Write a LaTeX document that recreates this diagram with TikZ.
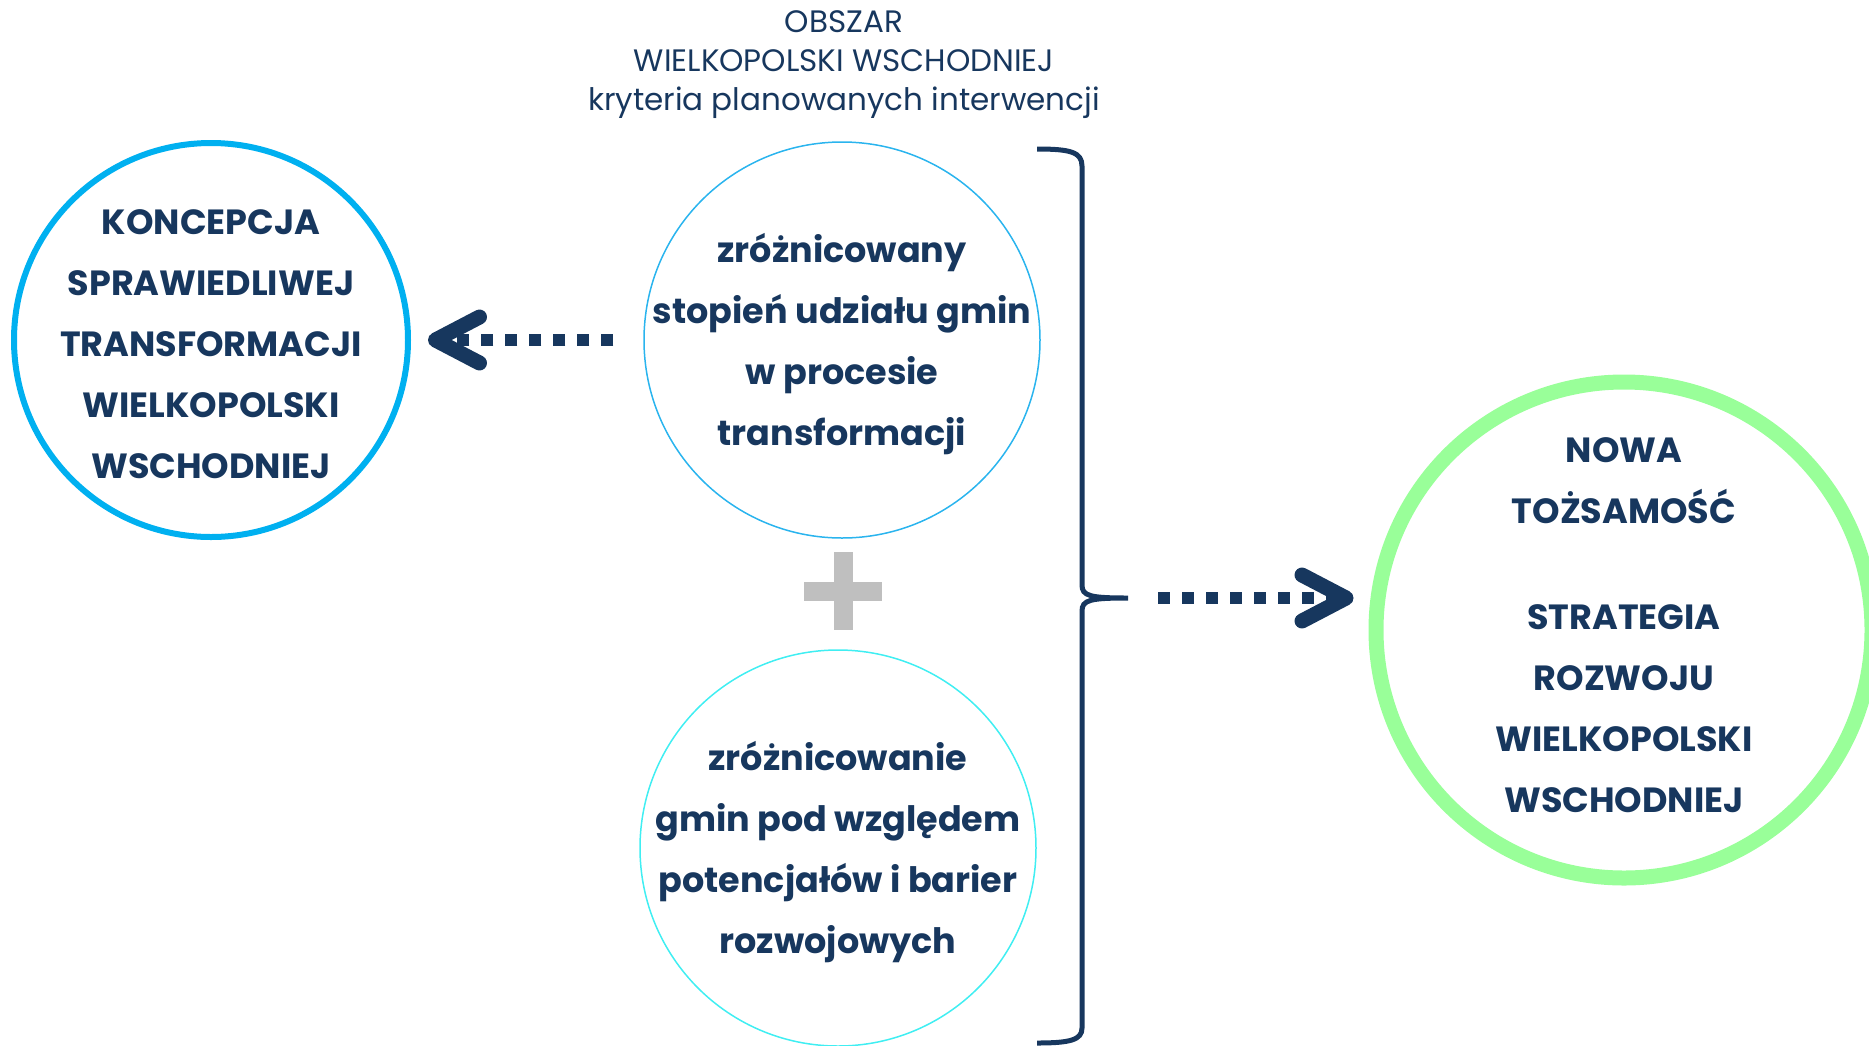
\documentclass[tikz,border=0pt]{standalone}
\usepackage{fontspec}
\setmainfont{Poppins}
\usetikzlibrary{arrows.meta}
\definecolor{granat}{HTML}{17375E}
\definecolor{niebieski}{HTML}{00B0F0}
\definecolor{jasnyniebieski}{HTML}{2AB4EE}
\definecolor{turkus}{HTML}{40EEF2}
\definecolor{zielony}{HTML}{99FF99}
\definecolor{szary}{HTML}{BFBFBF}

\begin{document}
\begin{tikzpicture}[x=1pt,y=-1pt,
  ring/.style={circle,inner sep=0pt,minimum size=#1},
  boldtext/.style={text=granat,align=center,yshift=-4pt,font=\bfseries\fontsize{35}{61}\selectfont},
  titletext/.style={text=granat,align=center,font=\fontsize{31}{39}\selectfont},
  dotarrow/.style={draw=granat,line width=12pt,dash pattern=on 12pt off 12pt,
    -{Straight Barb[round,length=44pt,width=46pt,line width=15pt]}},
  brace/.style={draw=granat,line width=5pt}]
\useasboundingbox (0,0) rectangle (1869,1045);
\clip (0,0) rectangle (1869,1045);

\node[titletext] (obszar) at (844,65) {OBSZAR\\WIELKOPOLSKI WSCHODNIEJ\\kryteria planowanych interwencji};

\node[ring=394pt,draw=niebieski,line width=6pt] (koncepcja) at (211,340) {};
\node[boldtext] (koncepcjatxt) at (koncepcja) {KONCEPCJA\\SPRAWIEDLIWEJ\\TRANSFORMACJI\\WIELKOPOLSKI\\WSCHODNIEJ};

\node[ring=396pt,draw=jasnyniebieski,line width=1.5pt] (udzial) at (842,340) {};
\node[boldtext] (udzialtxt) at (udzial) {zróżnicowany\\stopień udziału gmin\\w procesie\\transformacji};

\node[ring=396pt,draw=turkus,line width=1.5pt] (potencjal) at (838,848) {};
\node[boldtext] (potencjaltxt) at (potencjal) {zróżnicowanie\\gmin pod względem\\potencjałów i barier\\rozwojowych};

\node[ring=496pt,draw=zielony,line width=15pt] (nowa) at (1624,630) {};
\node[boldtext] (nowatxt) at (1624,621) {NOWA\\TOŻSAMOŚĆ\\[45pt]STRATEGIA\\ROZWOJU\\WIELKOPOLSKI\\WSCHODNIEJ};

\fill[szary] (834,552) rectangle (853,630);
\fill[szary] (804,582) rectangle (882,601);

\draw[brace] (1037,149) .. controls (1070,149) and (1082,152) .. (1082,166) -- (1082,585)
  .. controls (1082,596) and (1090,598) .. (1128,598)
  .. controls (1090,598) and (1082,600) .. (1082,611) -- (1082,1028)
  .. controls (1082,1040) and (1070,1043) .. (1037,1043);
\coordinate (bracetip) at (1128,598);

\draw[dotarrow,shorten <=30pt,shorten >=17pt] (udzial) -- (koncepcja);
\draw[dotarrow,shorten <=30pt,shorten >=15pt] (bracetip) -- (bracetip -| nowa.west);
\end{tikzpicture}
\end{document}
